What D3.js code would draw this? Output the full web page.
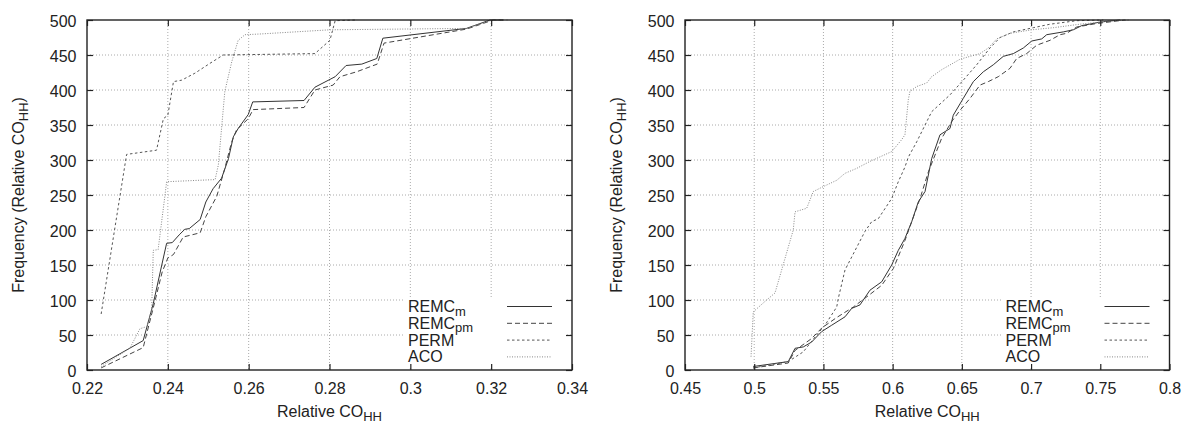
<!DOCTYPE html>
<html>
<head>
<meta charset="utf-8">
<script src="https://cdn.jsdelivr.net/npm/d3@7"></script>
<style>
  body { margin: 0; background: #fff; }
  svg text { font-family: "Liberation Sans", Arial, sans-serif; fill: #222; }
</style>
</head>
<body>
<svg id="chart" width="1200" height="424"></svg>
<script>
// tick values
var yTicks = [0, 50, 100, 150, 200, 250, 300, 350, 400, 450, 500];
var leftXTicks = [0.22, 0.24, 0.26, 0.28, 0.3, 0.32, 0.34];
var rightXTicks = [0.45, 0.5, 0.55, 0.6, 0.65, 0.7, 0.75, 0.8];

// legend
var seriesNames = ["REMC", "REMC", "PERM", "ACO"];
var seriesSubs = ["m", "pm", "", ""];

// left panel series [relative CO_HH, frequency]
var leftRemcM = [[0.2235,8],[0.2339,42],[0.2364,95],[0.2385,150],[0.2397,181],[0.2411,182],[0.2428,193],
  [0.2442,201],[0.2453,202],[0.2480,215],[0.2494,240],[0.2512,259],[0.2533,274],[0.2550,302],[0.2562,333],
  [0.2574,345],[0.2599,365],[0.2610,383],[0.2737,385],[0.2764,404],[0.2814,419],[0.2841,435],[0.2880,437],
  [0.2917,445],[0.2932,474],[0.3139,488],[0.3197,500],[0.3229,500]];
var leftRemcPm = [[0.2235,3],[0.2339,32],[0.2368,98],[0.2386,140],[0.2400,160],[0.2414,165],[0.2438,190],
  [0.2480,196],[0.2494,219],[0.2521,248],[0.2541,288],[0.2558,326],[0.2570,343],[0.2599,359],[0.2611,372],
  [0.2737,375],[0.2764,400],[0.2809,407],[0.2826,419],[0.2867,426],[0.2918,437],[0.2935,467],[0.3139,487],
  [0.3205,500],[0.3240,500]];
var leftPerm = [[0.2235,80],[0.2298,308],[0.2372,314],[0.2389,359],[0.2400,364],[0.2414,412],[0.2434,414],
  [0.2467,424],[0.2504,438],[0.2537,450],[0.2764,452],[0.2801,471],[0.2814,499],[0.2867,500]];
var leftAco = [[0.2235,5],[0.2306,31],[0.2331,59],[0.2348,62],[0.2360,86],[0.2364,171],[0.2376,172],
  [0.2393,250],[0.2397,269],[0.2517,272],[0.2525,293],[0.2541,398],[0.2558,440],[0.2574,471],[0.2591,479],
  [0.2628,480],[0.2801,486],[0.3139,488],[0.3197,499],[0.3229,500]];

// right panel series
var rightRemcM = [[0.4993,5],[0.5246,12],[0.5295,31],[0.5355,33],[0.5415,40],[0.5488,55],[0.5560,64],
  [0.5656,76],[0.5704,88],[0.5764,93],[0.5836,114],[0.5921,126],[0.5993,150],[0.6041,171],[0.6089,188],
  [0.6138,212],[0.6185,240],[0.6234,255],[0.6282,302],[0.6342,336],[0.6414,345],[0.6438,364],[0.6510,388],
  [0.6583,412],[0.6655,426],[0.6727,436],[0.6799,448],[0.6872,452],[0.6944,460],[0.7005,470],[0.7077,473],
  [0.7113,479],[0.7233,483],[0.7305,486],[0.7366,492],[0.7498,497],[0.7642,500]];
var rightRemcPm = [[0.4993,3],[0.5246,10],[0.5295,28],[0.5415,45],[0.5488,60],[0.5596,75],[0.5716,90],
  [0.5836,108],[0.5921,121],[0.6005,145],[0.6089,185],[0.6198,245],[0.6258,283],[0.6306,307],[0.6354,331],
  [0.6427,355],[0.6487,371],[0.6559,388],[0.6631,407],[0.6691,412],[0.6763,419],[0.6848,431],[0.6896,445],
  [0.6968,452],[0.7041,464],[0.7137,471],[0.7209,479],[0.7257,481],[0.7330,490],[0.7474,495],[0.7679,500]];
var rightPerm = [[0.4993,3],[0.5246,12],[0.5355,26],[0.5451,50],[0.5511,64],[0.5596,90],[0.5607,102],
  [0.5656,143],[0.5800,198],[0.5849,212],[0.5896,216],[0.5993,245],[0.6041,269],[0.6089,290],[0.6113,304],
  [0.6174,326],[0.6282,369],[0.6414,393],[0.6510,414],[0.6607,436],[0.6703,460],[0.6776,475],[0.6872,483],
  [0.7016,489],[0.7137,494],[0.7330,499],[0.7522,500]];
var rightAco = [[0.4977,19],[0.4993,83],[0.5078,98],[0.5150,110],[0.5282,200],[0.5295,226],[0.5379,231],
  [0.5427,255],[0.5499,262],[0.5596,271],[0.5656,281],[0.5740,288],[0.5836,298],[0.5993,312],[0.6065,329],
  [0.6089,336],[0.6113,386],[0.6125,398],[0.6174,405],[0.6246,410],[0.6282,419],[0.6354,429],[0.6487,444],
  [0.6631,452],[0.6691,460],[0.6752,473],[0.6848,481],[0.7005,486],[0.7161,489],[0.7353,494],[0.7498,497],
  [0.7556,499],[0.7715,500]];

var lineStyles = [
  {stroke: "#333", dash: null},
  {stroke: "#444", dash: "5,3"},
  {stroke: "#555", dash: "2.5,2.5"},
  {stroke: "#888", dash: "1,1.5"}
];

var svg = d3.select('#chart');
var plotTop = 20, plotBottom = 370;

var panels = [
  {left: 87, right: 572, domain: [0.22, 0.34], ticks: leftXTicks, series: [leftRemcM, leftRemcPm, leftPerm, leftAco], ylabelX: 24},
  {left: 685, right: 1169.5, domain: [0.45, 0.8], ticks: rightXTicks, series: [rightRemcM, rightRemcPm, rightPerm, rightAco], ylabelX: 622}
];

panels.forEach(function(p) {
  var w = p.right - p.left;
  var h = plotBottom - plotTop;
  var x = d3.scaleLinear().domain(p.domain).range([0, w]);
  var y = d3.scaleLinear().domain([0, 500]).range([h, 0]);

  var g = svg.append('g').attr('transform', 'translate(' + [p.left, plotTop] + ')');

  // grid
  var inner = p.ticks.slice(1, -1);
  g.append('g').selectAll('line').data(inner).enter().append('line')
    .attr('x1', d => x(d)).attr('x2', d => x(d)).attr('y1', 0).attr('y2', h)
    .attr('stroke', '#aaa').attr('stroke-width', 1).attr('stroke-dasharray', '1,2');
  g.append('g').selectAll('line').data(yTicks.slice(1, -1)).enter().append('line')
    .attr('x1', 0).attr('x2', w).attr('y1', d => y(d)).attr('y2', d => y(d))
    .attr('stroke', '#aaa').attr('stroke-width', 1).attr('stroke-dasharray', '1,2');

  // legend box (opaque, hides grid)
  var keyX = w - 164;
  g.append('rect').attr('x', keyX - 3).attr('y', 277).attr('width', 164 - 4).attr('height', 70).attr('fill', '#fff');

  // data lines
  var line = d3.line().x(d => x(d[0])).y(d => y(d[1]));
  p.series.forEach(function(s, i) {
    g.append('path').datum(s)
      .attr('fill', 'none')
      .attr('stroke', lineStyles[i].stroke)
      .attr('stroke-width', 1)
      .attr('stroke-dasharray', lineStyles[i].dash)
      .attr('d', line);
  });

  // axes: ticks pointing inward on all sides
  var xb = g.append('g').attr('transform', 'translate(0,' + h + ')')
    .call(d3.axisBottom(x).tickValues(p.ticks).tickSize(-6).tickPadding(12.5).tickFormat(d3.format('')));
  var xt = g.append('g').call(d3.axisTop(x).tickValues(p.ticks).tickSize(-6).tickFormat(''));
  var yl = g.append('g').call(d3.axisLeft(y).tickValues(yTicks).tickSize(-6).tickPadding(10.5));
  var yr = g.append('g').attr('transform', 'translate(' + w + ',0)')
    .call(d3.axisRight(y).tickValues(yTicks).tickSize(-6).tickFormat(''));
  [xb, xt, yl, yr].forEach(function(a) {
    a.select('.domain').remove();
    a.selectAll('line').attr('stroke', '#222').attr('stroke-width', 1.2);
    a.selectAll('text').attr('font-size', 16).attr('font-family', '"Liberation Sans", Arial, sans-serif').attr('fill', '#222');
  });
  yl.selectAll('text').attr('dy', '0.4em');

  g.append('rect').attr('x', 0).attr('y', 0).attr('width', w).attr('height', h)
    .attr('fill', 'none').attr('stroke', '#222').attr('stroke-width', 1.4);

  // legend
  seriesNames.forEach(function(name, i) {
    var base = 292 + i * 16.8;
    var t = g.append('text').attr('x', keyX).attr('y', base).attr('font-size', 16).text(name);
    if (seriesSubs[i]) t.append('tspan').attr('dy', 3.5).attr('font-size', 13).text(seriesSubs[i]);
    g.append('line').attr('x1', w - 65).attr('x2', w - 20).attr('y1', base - 5.5).attr('y2', base - 5.5)
      .attr('stroke', lineStyles[i].stroke).attr('stroke-width', 1).attr('stroke-dasharray', lineStyles[i].dash);
  });

  // axis labels
  var xl = g.append('text').attr('x', w / 2).attr('y', 396.5).attr('text-anchor', 'middle').attr('font-size', 16)
    .text('Relative CO');
  xl.append('tspan').attr('dy', 4).attr('font-size', 13).text('HH');

  var ylab = svg.append('text')
    .attr('transform', 'translate(' + [p.ylabelX, plotTop + h / 2] + ')rotate(-90)')
    .attr('text-anchor', 'middle').attr('font-size', 16)
    .text('Frequency (Relative CO');
  ylab.append('tspan').attr('dy', 4).attr('font-size', 13).text('HH');
  ylab.append('tspan').attr('dy', -4).attr('font-size', 16).text(')');
});
</script>
</body>
</html>
